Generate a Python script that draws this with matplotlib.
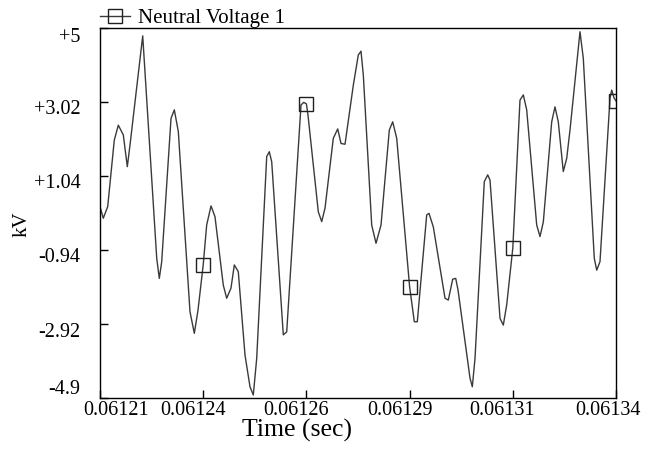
import numpy as np
import matplotlib
matplotlib.use("Agg")
import matplotlib.pyplot as plt
import matplotlib.transforms as mtransforms

# sampled waveform, time in microseconds, voltage in kV
time_us = [61210.00, 61210.83, 61211.94, 61213.60, 61214.61, 61215.87, 61216.88, 61217.56,
           61220.76, 61224.29, 61224.94, 61225.54, 61227.89, 61228.72, 61229.73, 61232.67,
           61233.76, 61234.69, 61236.00, 61236.88, 61237.97, 61238.97, 61241.06, 61241.92,
           61243.00, 61243.84, 61244.84, 61246.53, 61247.79, 61248.62, 61249.48, 61252.00,
           61252.65, 61253.26, 61256.18, 61257.04, 61260.64, 61261.32, 61262.00, 61262.40,
           61265.00, 61265.86, 61266.69, 61268.78, 61269.89, 61270.72, 61271.73, 61273.82,
           61275.08, 61275.76, 61276.34, 61278.45, 61279.54, 61280.80, 61282.89, 61283.74,
           61284.75, 61288.00, 61289.19, 61289.94, 61292.31, 61292.89, 61293.97, 61296.92,
           61297.75, 61298.86, 61299.62, 61300.20, 61303.22, 61303.80, 61304.48, 61306.82,
           61307.68, 61308.26, 61310.78, 61311.61, 61312.46, 61314.00, 61315.81, 61316.65,
           61317.50, 61320.02, 61320.85, 61321.69, 61323.80, 61324.63, 61325.46, 61326.72,
           61327.58, 61328.41, 61330.93, 61331.76, 61334.53, 61335.14, 61335.97, 61338.49,
           61338.92, 61339.50, 61340.00]
volts = [0.22, -0.09, 0.22, 2.00, 2.40, 2.14, 1.29, 1.87,
         4.79, -1.16, -1.70, -1.26, 2.58, 2.81, 2.23, -2.59,
         -3.17, -2.55, -1.34, -0.27, 0.24, -0.05, -1.88, -2.23,
         -1.96, -1.34, -1.52, -3.75, -4.60, -4.82, -3.84, 1.56,
         1.69, 1.42, -3.21, -3.13, 2.94, 3.01, 2.97, 2.67,
         0.08, -0.18, 0.18, 2.05, 2.30, 1.91, 1.89, 3.47,
         4.28, 4.38, 3.74, -0.27, -0.76, -0.27, 2.27, 2.49,
         2.05, -1.92, -2.86, -2.86, 0.00, 0.04, -0.32, -2.23,
         -2.28, -1.72, -1.70, -2.01, -4.37, -4.60, -3.84, 0.89,
         1.07, 0.93, -2.77, -2.95, -2.41, -0.89, 3.07, 3.21,
         2.81, -0.27, -0.58, -0.19, 2.49, 2.89, 2.49, 1.16,
         1.51, 2.27, 4.90, 4.19, -1.16, -1.48, -1.25, 3.12,
         3.34, 3.13, 3.05]
marker_us = [61236.0, 61262.0, 61288.0, 61314.0, 61340.0]

xticks = [0.06121, 0.061236, 0.061262, 0.061288, 0.061314, 0.06134]
xtick_labels = ["0.06121", "0.06124", "0.06126", "0.06129", "0.06131", "0.06134"]
yticks = [5, 3.02, 1.04, -0.94, -2.92, -4.9]
ytick_labels = ["+5", "+3.02", "+1.04", "-0.94", "-2.92", "-4.9"]

t = np.array(time_us) * 1e-6
v = np.array(volts)
mk = list(np.where(np.isin(np.array(time_us), marker_us))[0])

plt.rcParams['font.family'] = ['Liberation Serif', 'DejaVu Serif']

fig = plt.figure(figsize=(6.5, 4.51), dpi=100)
ax = fig.add_axes([100/650, 1 - 398/451, 516/650, 370/451])

ax.plot(t, v, color='#3a3a3a', lw=1.0, marker='s', markevery=mk, ms=9.5,
        mfc='none', mec='#202020', mew=1.0, label='Neutral Voltage 1')

ax.set_xlim(0.06121, 0.06134)
ax.set_ylim(-4.9, 5)
ax.set_xticks(xticks)
ax.set_xticklabels(xtick_labels)
ax.set_yticks(yticks)
ax.set_yticklabels(ytick_labels)
ax.tick_params(axis='x', direction='in', length=6, width=1, pad=2.5, labelsize=14.5)
ax.tick_params(axis='y', direction='in', length=6, width=1, pad=14, labelsize=14.5)
for s in ax.spines.values():
    s.set_linewidth(1.0)
    s.set_color('black')

ax.set_xlabel('Time (sec)', fontsize=18.5)
ax.xaxis.label.set_va('baseline')
ax.xaxis.set_label_coords((297 - 100) / 516, (398 - 437) / 370)
ax.set_ylabel('kV', fontsize=15)
ax.yaxis.label.set_va('center')
ax.yaxis.set_label_coords((22 - 100) / 516, (398 - 224) / 370)

ax.legend(loc='center left', bbox_to_anchor=(100/650, 1 - 18/451),
          bbox_transform=fig.transFigure, frameon=False, fontsize=15,
          handlelength=1.45, handletextpad=0.35, borderpad=0, borderaxespad=0)

# nudge tick labels to where the original puts them (pixels, dpi 100)
x_shift = [16, -10, -10, -10, -11, -8]
y_shift = [-7, -5, -5, -5, -6, 11]
for tk, dx in zip(ax.xaxis.get_major_ticks(), x_shift):
    tk.label1.set_transform(tk.label1.get_transform() +
                            mtransforms.ScaledTranslation(dx/100, 0, fig.dpi_scale_trans))
for tk, dy in zip(ax.yaxis.get_major_ticks(), y_shift):
    tk.label1.set_transform(tk.label1.get_transform() +
                            mtransforms.ScaledTranslation(0, dy/100, fig.dpi_scale_trans))

fig.savefig('out.png', dpi=100, facecolor='white')
